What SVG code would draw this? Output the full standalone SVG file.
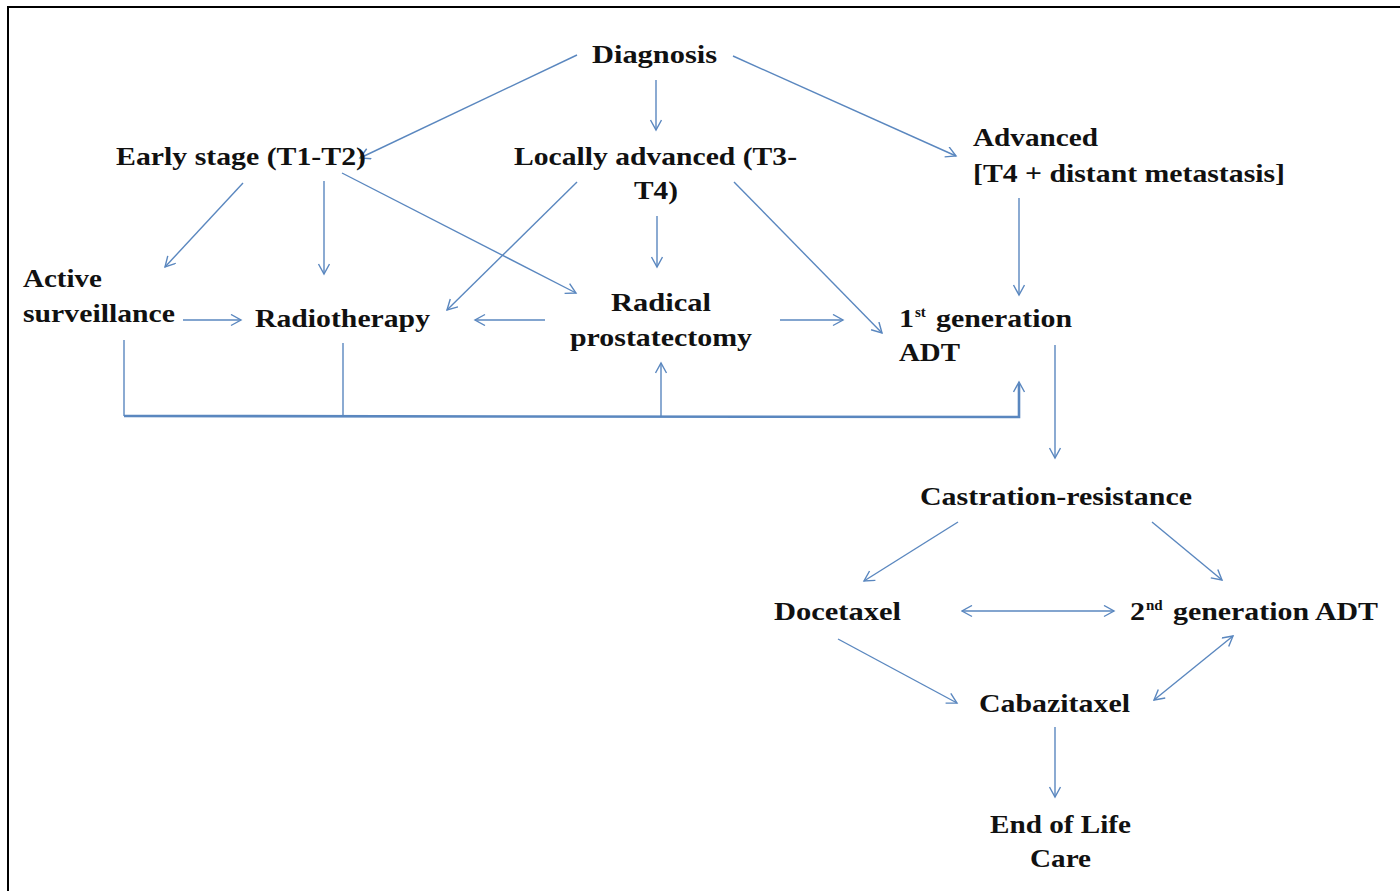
<svg xmlns="http://www.w3.org/2000/svg" width="1400" height="891" viewBox="0 0 1400 891">
<defs>
<style>
.t{font-family:"Liberation Serif","Times New Roman",serif;font-weight:bold;font-size:26px;fill:#111;}
.s{font-family:"Liberation Serif","Times New Roman",serif;font-weight:bold;font-size:15px;fill:#111;}
.c{stroke:#5a87bf;stroke-width:1.4;fill:none;}
.bus{stroke:#5a87bf;stroke-width:2.6;fill:none;}
</style>
<marker id="a" markerUnits="userSpaceOnUse" markerWidth="16" markerHeight="16" refX="11" refY="6" orient="auto">
<path d="M1,0.5 L11,6 L1,11.5" fill="none" stroke="#5a87bf" stroke-width="1.4"/>
</marker>
<marker id="as" markerUnits="userSpaceOnUse" markerWidth="16" markerHeight="16" refX="1" refY="6" orient="auto">
<path d="M11,0.5 L1,6 L11,11.5" fill="none" stroke="#5a87bf" stroke-width="1.4"/>
</marker>
</defs>
<rect x="0" y="0" width="1400" height="891" fill="#fff"/>
<rect x="8" y="7" width="1400" height="900" fill="none" stroke="#000" stroke-width="2"/>

<g id="connectors">
<line class="c" x1="577" y1="55" x2="360" y2="158" marker-end="url(#a)"/>
<line class="c" x1="656" y1="80" x2="656" y2="130" marker-end="url(#a)"/>
<line class="c" x1="733" y1="56" x2="956" y2="156" marker-end="url(#a)"/>
<line class="c" x1="243" y1="183" x2="165" y2="267" marker-end="url(#a)"/>
<line class="c" x1="324" y1="181" x2="324" y2="274" marker-end="url(#a)"/>
<line class="c" x1="342" y1="173" x2="576" y2="293" marker-end="url(#a)"/>
<line class="c" x1="577" y1="182" x2="447" y2="310" marker-end="url(#a)"/>
<line class="c" x1="657" y1="216" x2="657" y2="267" marker-end="url(#a)"/>
<line class="c" x1="734" y1="182" x2="882" y2="333" marker-end="url(#a)"/>
<line class="c" x1="1019" y1="198" x2="1019" y2="295" marker-end="url(#a)"/>
<line class="c" x1="183" y1="320" x2="241" y2="320" marker-end="url(#a)"/>
<line class="c" x1="545" y1="320" x2="475" y2="320" marker-end="url(#a)"/>
<line class="c" x1="780" y1="320" x2="843" y2="320" marker-end="url(#a)"/>
<line class="c" x1="124" y1="340" x2="124" y2="416"/>
<line class="c" x1="343" y1="343" x2="343" y2="417"/>
<path class="bus" d="M124,416 L1019,417 L1019,384"/>
<line class="c" x1="1019" y1="400" x2="1019" y2="382" marker-end="url(#a)"/>
<line class="c" x1="661" y1="417" x2="661" y2="363" marker-end="url(#a)"/>
<line class="c" x1="1055" y1="345" x2="1055" y2="458" marker-end="url(#a)"/>
<line class="c" x1="958" y1="522" x2="864" y2="581" marker-end="url(#a)"/>
<line class="c" x1="1152" y1="522" x2="1222" y2="580" marker-end="url(#a)"/>
<line class="c" x1="962" y1="611" x2="1114" y2="611" marker-start="url(#as)" marker-end="url(#a)"/>
<line class="c" x1="838" y1="639" x2="957" y2="703" marker-end="url(#a)"/>
<line class="c" x1="1154" y1="700" x2="1233" y2="636" marker-start="url(#as)" marker-end="url(#a)"/>
<line class="c" x1="1055" y1="727" x2="1055" y2="797" marker-end="url(#a)"/>
</g>

<g id="diagnosis"><text class="t" x="592" y="63" textLength="125" lengthAdjust="spacingAndGlyphs">Diagnosis</text></g>
<g id="early"><text class="t" x="116" y="165" textLength="250" lengthAdjust="spacingAndGlyphs">Early stage (T1-T2)</text></g>
<g id="locally"><text class="t" x="514" y="165" textLength="283" lengthAdjust="spacingAndGlyphs">Locally advanced (T3-</text>
<text class="t" x="634" y="199" textLength="44" lengthAdjust="spacingAndGlyphs">T4)</text></g>
<g id="advanced"><text class="t" x="973" y="146" textLength="125" lengthAdjust="spacingAndGlyphs">Advanced</text>
<text class="t" x="973" y="182" textLength="312" lengthAdjust="spacingAndGlyphs">[T4 + distant metastasis]</text></g>
<g id="active"><text class="t" x="23" y="287" textLength="79" lengthAdjust="spacingAndGlyphs">Active</text>
<text class="t" x="23" y="322" textLength="152" lengthAdjust="spacingAndGlyphs">surveillance</text></g>
<g id="radiotherapy"><text class="t" x="255" y="327" textLength="175" lengthAdjust="spacingAndGlyphs">Radiotherapy</text></g>
<g id="radical"><text class="t" x="611" y="311" textLength="100" lengthAdjust="spacingAndGlyphs">Radical</text>
<text class="t" x="570" y="346" textLength="182" lengthAdjust="spacingAndGlyphs">prostatectomy</text></g>
<g id="adt1"><text class="t" x="899" y="327" textLength="15" lengthAdjust="spacingAndGlyphs">1</text>
<text class="s" x="915" y="317">st</text>
<text class="t" x="936" y="327" textLength="136" lengthAdjust="spacingAndGlyphs">generation</text>
<text class="t" x="899" y="361" textLength="61" lengthAdjust="spacingAndGlyphs">ADT</text></g>
<g id="castration"><text class="t" x="920" y="505" textLength="272" lengthAdjust="spacingAndGlyphs">Castration-resistance</text></g>
<g id="docetaxel"><text class="t" x="774" y="620" textLength="127" lengthAdjust="spacingAndGlyphs">Docetaxel</text></g>
<g id="adt2"><text class="t" x="1130" y="620" textLength="15" lengthAdjust="spacingAndGlyphs">2</text>
<text class="s" x="1146" y="610">nd</text>
<text class="t" x="1173" y="620" textLength="205" lengthAdjust="spacingAndGlyphs">generation ADT</text></g>
<g id="cabazitaxel"><text class="t" x="979" y="712" textLength="151" lengthAdjust="spacingAndGlyphs">Cabazitaxel</text></g>
<g id="eol"><text class="t" x="990" y="833" textLength="141" lengthAdjust="spacingAndGlyphs">End of Life</text>
<text class="t" x="1030" y="867" textLength="61" lengthAdjust="spacingAndGlyphs">Care</text></g>
</svg>
